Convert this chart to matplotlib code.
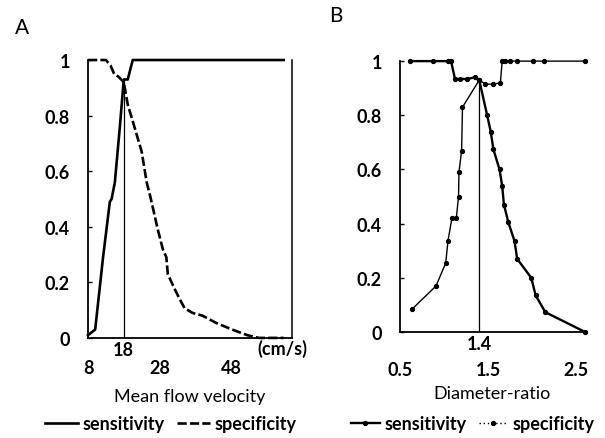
import matplotlib
matplotlib.use("Agg")
import matplotlib.pyplot as plt
from matplotlib.lines import Line2D

# panel A: mean flow velocity (cm/s)
vel_sens_x = [8, 10, 12.2, 14.1, 14.6, 15.5, 16.9, 18, 19.1, 20.5, 62.7]
vel_sens_y = [0.01, 0.03, 0.29, 0.49, 0.50, 0.56, 0.76, 0.93, 0.93, 1.0, 1.0]
vel_spec_x = [8, 13, 14.3, 15.3, 16.5, 18, 19.1, 20.5, 23, 24.4, 25.2, 26.1, 27.5,
              28.9, 29.9, 30.3, 31.7, 33.6, 35, 37.2, 40, 43.8, 48.3, 52.5, 55.8, 62.7]
vel_spec_y = [1.0, 1.0, 0.98, 0.95, 0.94, 0.92, 0.84, 0.78, 0.67, 0.56, 0.52, 0.47, 0.39,
              0.32, 0.29, 0.23, 0.19, 0.14, 0.107, 0.09, 0.08, 0.054, 0.03, 0.01, 0.0, 0.0]
vel_cut = 18
vel_cut_y = 0.93

# panel B: diameter ratio
dr_sens_x = [0.61, 0.875, 1.05, 1.08, 1.125, 1.18, 1.26, 1.35, 1.4, 1.49, 1.53, 1.56,
             1.63, 1.66, 1.68, 1.73, 1.80, 1.83, 1.99, 2.04, 2.15, 2.6]
dr_sens_y = [1.0, 1.0, 1.0, 1.0, 0.934, 0.934, 0.934, 0.94, 0.93, 0.80, 0.74, 0.675,
             0.60, 0.54, 0.47, 0.405, 0.336, 0.27, 0.20, 0.135, 0.073, 0.0]
dr_spec_x = [0.64, 0.91, 1.02, 1.045, 1.09, 1.14, 1.165, 1.17, 1.2, 1.21, 1.4, 1.47,
             1.56, 1.64, 1.66, 1.69, 1.75, 1.83, 2.01, 2.13, 2.6]
dr_spec_y = [0.085, 0.17, 0.255, 0.336, 0.42, 0.42, 0.50, 0.59, 0.67, 0.83, 0.93, 0.915,
             0.915, 0.92, 1.0, 1.0, 1.0, 1.0, 1.0, 1.0, 1.0]
dr_cut = 1.4
dr_cut_y = 0.93

yticks = [0, 0.2, 0.4, 0.6, 0.8, 1.0]
ytick_labels = ["0", "0.2", "0.4", "0.6", "0.8", "1"]

plt.rcParams["font.family"] = ["Lato", "DejaVu Sans"]
FS = 13
LFS = 13

fig = plt.figure(figsize=(6.05, 4.39), dpi=100)
axA = fig.add_axes([0.1455, 0.228, 0.337, 0.633])
axB = fig.add_axes([0.661, 0.2415, 0.306, 0.617])

# --- A ---
axA.plot(vel_sens_x, vel_sens_y, color="black", lw=1.9, clip_on=False)
axA.plot(vel_spec_x, vel_spec_y, color="black", lw=1.9, ls=(0, (3.5, 1.2)), clip_on=False)
axA.plot([vel_cut, vel_cut], [0, vel_cut_y], color="black", lw=0.9)
axA.set_xlim(8, 65)
axA.set_ylim(0, 1)
axA.set_xticks([8, 28, 48], labels=["8", "28", "48"])
axA.set_xticks([18], labels=["18"], minor=True)
axA.tick_params(axis="x", which="major", pad=15, length=0, labelsize=FS)
axA.tick_params(axis="x", which="minor", pad=2, length=0, labelsize=FS)
axA.set_yticks(yticks, labels=ytick_labels)
axA.tick_params(axis="y", direction="in", length=3, width=1, pad=13, labelsize=FS)
for lab in axA.get_xticklabels(which="both") + axA.get_yticklabels():
    lab.set_fontweight("bold")
axA.spines["top"].set_visible(False)
for s in ["left", "bottom"]:
    axA.spines[s].set_linewidth(1.3)
axA.spines["right"].set_linewidth(1.1)
axA.text(0.955, -0.005, "(cm/s)", transform=axA.transAxes, fontsize=FS,
         fontweight="bold", ha="center", va="top")
axA.set_xlabel("Mean flow velocity", fontsize=FS, labelpad=9)
axA.text(-0.36, 1.12, "A", transform=axA.transAxes, fontsize=15, ha="left", va="center")

# --- B ---
axB.plot(dr_sens_x, dr_sens_y, color="black", lw=1.7, marker="o", ms=2.8, clip_on=False)
axB.plot(dr_spec_x, dr_spec_y, color="black", lw=1.0, marker="o", ms=2.8, clip_on=False)
axB.plot([dr_cut, dr_cut], [0, dr_cut_y], color="black", lw=0.9)
axB.set_xlim(0.5, 2.6)
axB.set_ylim(0, 1)
axB.set_xticks([0.5, 1.5, 2.5], labels=["0.5", "1.5", "2.5"])
axB.set_xticks([1.4], labels=["1.4"], minor=True)
axB.tick_params(axis="x", which="major", pad=21, length=0, labelsize=FS)
axB.tick_params(axis="x", which="minor", pad=2, length=0, labelsize=FS)
axB.set_yticks(yticks, labels=ytick_labels)
axB.tick_params(axis="y", direction="in", length=3, width=1, pad=13, labelsize=FS)
for lab in axB.get_xticklabels(which="both") + axB.get_yticklabels():
    lab.set_fontweight("bold")
axB.spines["top"].set_visible(False)
axB.spines["right"].set_visible(False)
for s in ["left", "bottom"]:
    axB.spines[s].set_linewidth(1.3)
axB.set_xlabel("Diameter-ratio", fontsize=FS, labelpad=5)
axB.text(-0.38, 1.17, "B", transform=axB.transAxes, fontsize=15, ha="left", va="center")

# legends
hA = [Line2D([], [], color="black", lw=1.9),
      Line2D([], [], color="black", lw=1.9, ls=(0, (3.5, 1.2)))]
fig.legend(hA, ["sensitivity", "specificity"], loc="center left",
           bbox_to_anchor=(0.06, 0.033), ncol=2, frameon=False, handlelength=1.8,
           handletextpad=0.25, columnspacing=0.7, borderpad=0,
           prop={"weight": "bold", "size": LFS})

hB = [Line2D([], [], color="black", lw=1.7, marker="o", ms=2.8),
      Line2D([], [], color="black", lw=1.0, ls=(0, (1, 2)), marker="o", ms=2.8)]
fig.legend(hB, ["sensitivity", "specificity"], loc="center left",
           bbox_to_anchor=(0.565, 0.033), ncol=2, frameon=False, handlelength=1.6,
           handletextpad=0.25, columnspacing=0.7, borderpad=0,
           prop={"weight": "bold", "size": LFS})

fig.savefig("out.png", dpi=100)
